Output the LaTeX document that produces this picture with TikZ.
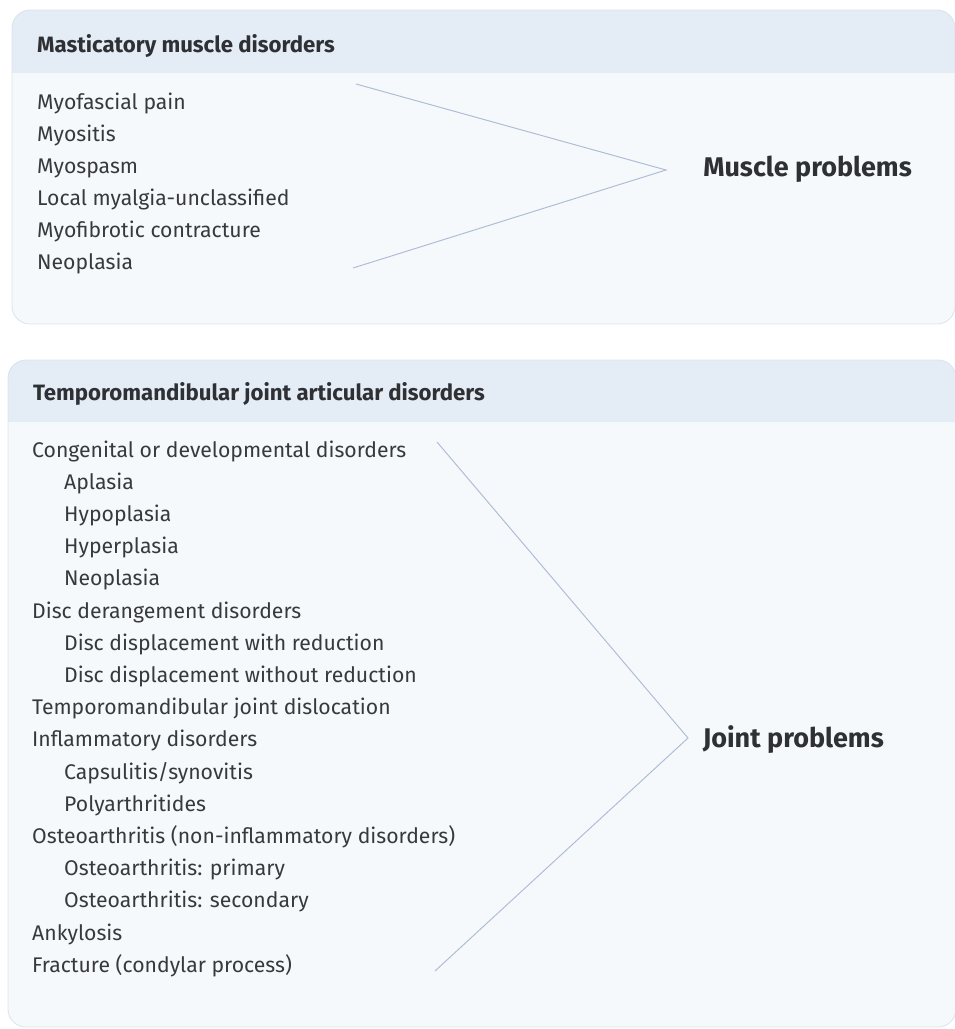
\documentclass[tikz,border=0pt]{standalone}
\usepackage{fontspec}
\setmainfont{Fira Sans}
\begin{document}
\begin{tikzpicture}[x=1pt,y=-1pt,
  panelline/.style={draw=panelborder,line width=0.8pt,rounded corners=18pt},
  headtext/.style={anchor=base west,inner sep=0pt,text=headgrey,font=\fontsize{22.2}{26}\selectfont\bfseries},
  itemtext/.style={anchor=base west,inner sep=0pt,text=textgrey,font=\fontsize{21.2}{25}\selectfont},
  grouptext/.style={anchor=base east,inner sep=0pt,text=headgrey,font=\fontsize{27}{31}\selectfont\bfseries},
  bracket/.style={draw=bracketblue,line width=1pt}]
\definecolor{panelbg}{HTML}{F6F9FC}
\definecolor{bandbg}{HTML}{E4ECF6}
\definecolor{panelborder}{HTML}{DCE2EA}
\definecolor{textgrey}{HTML}{38393B}
\definecolor{headgrey}{HTML}{2E3034}
\definecolor{bracketblue}{HTML}{AFBED6}
\useasboundingbox (0,0) rectangle (954,1029);

% ---------- upper panel: masticatory muscle disorders ----------
\begin{scope}
  \clip[rounded corners=18pt] (12,10) rectangle (955,324);
  \fill[panelbg] (12,10) rectangle (955,324);
  \fill[bandbg] (12,10) rectangle (955,73);
\end{scope}
\draw[panelline] (12,10) rectangle (955,324);

\node[headtext] (mhead) at (37,52) {Masticatory muscle disorders};
\node[itemtext] (m1) at (37,109) {Myofascial pain};
\node[itemtext] (m2) at (37,141) {Myositis};
\node[itemtext] (m3) at (37,173) {Myospasm};
\node[itemtext] (m4) at (37,205) {Local myalgia-unclassified};
\node[itemtext] (m5) at (37,237) {Myofibrotic contracture};
\node[itemtext] (m6) at (37,269) {Neoplasia};

\coordinate (mtop) at (356,84);
\coordinate (mtip) at (666,170);
\coordinate (mbot) at (353,268);
\draw[bracket] (mtop) -- (mtip) -- (mbot);
\node[grouptext] (muscle) at (912,176.5) {Muscle problems};

% ---------- lower panel: temporomandibular joint articular disorders ----------
\begin{scope}
  \clip[rounded corners=18pt] (8,360) rectangle (956,1027);
  \fill[panelbg] (8,360) rectangle (956,1027);
  \fill[bandbg] (8,360) rectangle (956,422);
\end{scope}
\draw[panelline] (8,360) rectangle (956,1027);

\node[headtext] (jhead) at (33,400) {Temporomandibular joint articular disorders};
\node[itemtext] (j1)  at (32,457.0) {Congenital or developmental disorders};
\node[itemtext] (j2)  at (64,489.2) {Aplasia};
\node[itemtext] (j3)  at (64,521.4) {Hypoplasia};
\node[itemtext] (j4)  at (64,553.6) {Hyperplasia};
\node[itemtext] (j5)  at (64,585.8) {Neoplasia};
\node[itemtext] (j6)  at (32,618.0) {Disc derangement disorders};
\node[itemtext] (j7)  at (64,650.2) {Disc displacement with reduction};
\node[itemtext] (j8)  at (64,682.4) {Disc displacement without reduction};
\node[itemtext] (j9)  at (32,714.6) {Temporomandibular joint dislocation};
\node[itemtext] (j10) at (32,746.8) {Inflammatory disorders};
\node[itemtext] (j11) at (64,779.0) {Capsulitis/synovitis};
\node[itemtext] (j12) at (64,811.2) {Polyarthritides};
\node[itemtext] (j13) at (32,843.4) {Osteoarthritis (non-inflammatory disorders)};
\node[itemtext] (j14) at (64,875.6) {Osteoarthritis: primary};
\node[itemtext] (j15) at (64,907.8) {Osteoarthritis: secondary};
\node[itemtext] (j16) at (32,940.0) {Ankylosis};
\node[itemtext] (j17) at (32,972.2) {Fracture (condylar process)};

\coordinate (jtop) at (437,442);
\coordinate (jtip) at (688,738);
\coordinate (jbot) at (435,971);
\draw[bracket] (jtop) -- (jtip) -- (jbot);
\node[grouptext] (joint) at (884,747) {Joint problems};
\end{tikzpicture}
\end{document}
